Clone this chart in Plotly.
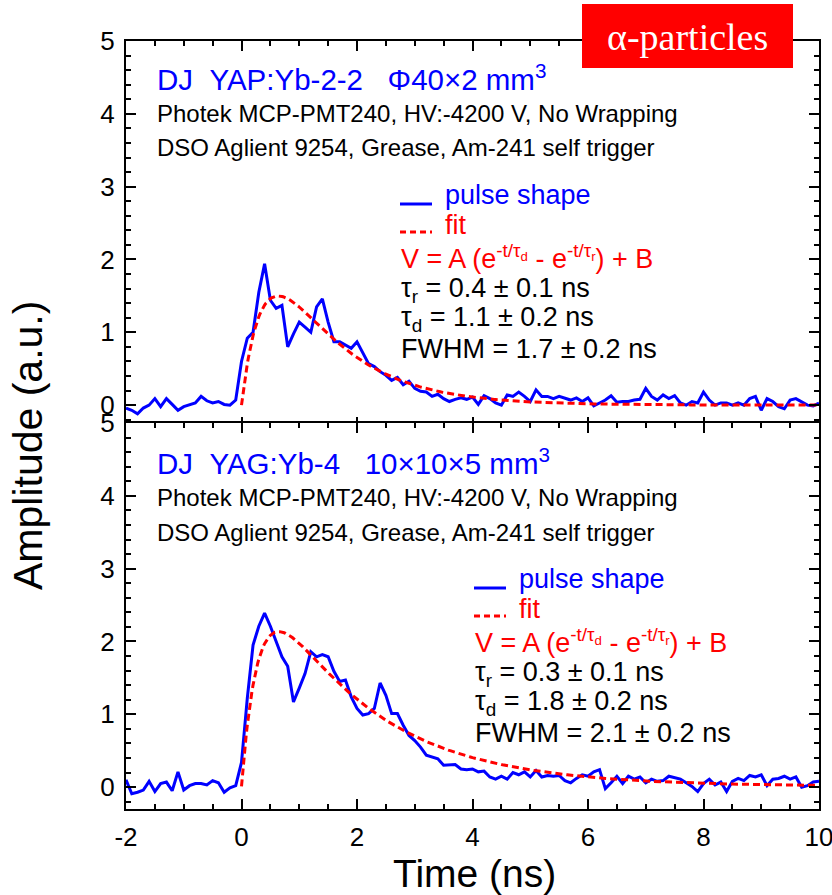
import numpy as np
import plotly.graph_objects as go
from plotly.subplots import make_subplots

# Sampling grid of the oscilloscope traces (ns)
time_ns = np.round(np.arange(-2.0, 10.0001, 0.1), 1)

# Averaged pulse shape, YAP:Yb crystal (a.u.)
yap_pulse = [
    -0.04, -0.07, -0.12, -0.04, 0.00, 0.09, -0.02, 0.09, 0.01, -0.07,
    -0.02, 0.00, 0.03, 0.12, 0.06, 0.03, 0.05, 0.01, 0.00, 0.07,
    0.60, 0.92, 1.00, 1.55, 1.94, 1.44, 1.33, 1.37, 0.80, 0.98,
    1.14, 1.07, 1.00, 1.35, 1.46, 1.14, 0.87, 0.87, 0.82, 0.78,
    0.87, 0.71, 0.57, 0.53, 0.46, 0.41, 0.34, 0.38, 0.28, 0.33,
    0.23, 0.19, 0.18, 0.12, 0.15, 0.09, 0.05, 0.08, 0.10, 0.08,
    0.11, 0.01, 0.13, 0.09, 0.03, 0.00, 0.14, 0.12, 0.18, 0.12,
    0.05, 0.21, 0.12, 0.12, 0.09, 0.12, 0.09, 0.07, 0.10, 0.05,
    0.10, -0.01, 0.03, 0.07, 0.13, 0.04, 0.05, 0.05, 0.07, 0.08,
    0.23, 0.12, 0.07, 0.14, 0.09, 0.13, 0.03, 0.00, 0.05, 0.03,
    0.18, 0.07, 0.00, 0.03, 0.03, 0.00, 0.03, 0.00, 0.09, 0.12,
    -0.07, 0.09, 0.05, -0.02, -0.05, 0.07, 0.09, 0.04, 0.00, -0.01,
    0.03,
]

# Averaged pulse shape, YAG:Yb crystal (a.u.)
yag_pulse = [
    0.10, -0.09, -0.07, -0.04, 0.08, -0.06, 0.05, 0.07, -0.05, 0.21,
    -0.04, 0.02, 0.05, 0.05, 0.03, 0.09, 0.06, -0.07, -0.01, 0.02,
    0.34, 1.22, 1.95, 2.21, 2.39, 2.21, 2.00, 1.79, 1.66, 1.17,
    1.36, 1.56, 1.86, 1.79, 1.82, 1.79, 1.59, 1.45, 1.47, 1.24,
    1.08, 0.99, 1.01, 1.08, 1.43, 1.26, 1.01, 1.01, 0.85, 0.71,
    0.64, 0.55, 0.44, 0.41, 0.39, 0.30, 0.30, 0.31, 0.25, 0.24,
    0.25, 0.21, 0.22, 0.14, 0.11, 0.15, 0.11, 0.20, 0.17, 0.21,
    0.14, 0.23, 0.14, 0.16, 0.15, 0.16, 0.09, 0.06, 0.12, 0.17,
    0.15, 0.21, 0.24, -0.02, 0.06, 0.15, 0.05, 0.15, 0.11, 0.14,
    0.06, 0.11, 0.08, 0.09, 0.15, 0.13, 0.11, 0.06, 0.01, -0.06,
    0.05, 0.11, 0.03, 0.07, -0.06, 0.08, 0.12, 0.09, 0.16, 0.14,
    0.17, 0.02, 0.11, 0.12, 0.15, 0.11, 0.14, 0.00, 0.02, 0.07,
    0.08,
]

# Fit results V = A (exp(-t/tau_d) - exp(-t/tau_r)) + B
yap_tau_r, yap_tau_d, yap_amp, yap_base = 0.4, 1.1, 4.2, 0.0
yag_tau_r, yag_tau_d, yag_amp, yag_base = 0.3, 1.8, 3.65, 0.01
yap_fwhm, yag_fwhm = 1.7, 2.1

# Axis ticks (plain hyphen for the negative label)
x_tickvals = [-2, 0, 2, 4, 6, 8, 10]
x_ticktext = ["-2", "0", "2", "4", "6", "8", "10"]
y_tickvals = [0, 1, 2, 3, 4, 5]
y_ticktext = ["0", "1", "2", "3", "4", "5"]

fit_t = np.linspace(0.0, 10.0, 501)


def fit_curve(t, tau_r, tau_d, amp, base):
    return amp * (np.exp(-t / tau_d) - np.exp(-t / tau_r)) + base


yap_fit = fit_curve(fit_t, yap_tau_r, yap_tau_d, yap_amp, yap_base)
yag_fit = fit_curve(fit_t, yag_tau_r, yag_tau_d, yag_amp, yag_base)

BLUE = "#0000ff"
RED = "#ff0000"
SANS = "Liberation Sans, Arial, sans-serif"
SERIF = "Liberation Serif, Times New Roman, serif"

W, H = 832, 895
ML, MR, MT, MB = 126, 13, 41, 86
PW = W - ML - MR
PH = H - MT - MB
LW = 2  # frame line width


def px(x):
    return (x - ML) / PW


def py(y):
    return (H - MB - y) / PH


fig = make_subplots(rows=2, cols=1, vertical_spacing=0)

for row, pulse, fit in ((1, yap_pulse, yap_fit), (2, yag_pulse, yag_fit)):
    fig.add_trace(go.Scatter(x=time_ns, y=pulse, mode="lines",
                             line=dict(color=BLUE, width=3),
                             showlegend=False), row=row, col=1)
    fig.add_trace(go.Scatter(x=fit_t, y=fit, mode="lines",
                             line=dict(color=RED, width=3, dash="7px,4px"),
                             showlegend=False), row=row, col=1)

tickfont = dict(family=SANS, size=26, color="black")
axis_common = dict(showline=True, linecolor="black", linewidth=LW,
                   mirror="ticks", ticks="inside", tickcolor="black",
                   tickwidth=2, ticklen=10, showgrid=False, zeroline=False,
                   tickfont=tickfont, ticklabelstandoff=4,
                   ticklabeloverflow="allow", automargin=False)

# panels share one frame line where they meet
half = LW / PH
domains = {1: [0.5 - half, 1.0], 2: [0.0, 0.5 + half]}

for row in (1, 2):
    fig.update_xaxes(range=[-2, 10], tickmode="array", tickvals=x_tickvals,
                     ticktext=x_ticktext,
                     minor=dict(dtick=0.5, tick0=0, ticks="inside", ticklen=5,
                                tickwidth=1.5, tickcolor="black"),
                     showticklabels=(row == 2), row=row, col=1, **axis_common)
    fig.update_yaxes(range=[-0.3, 5], tickmode="array", tickvals=y_tickvals,
                     ticktext=y_ticktext, domain=domains[row],
                     minor=dict(dtick=0.2, tick0=0, ticks="inside", ticklen=5,
                                tickwidth=1.5, tickcolor="black"),
                     row=row, col=1, **axis_common)

annotations = []
shapes = []


def text(x, y, s, size, color="black", family=SANS, **kw):
    annotations.append(dict(x=px(x), y=py(y), xref="paper", yref="paper",
                            text=s, showarrow=False, xanchor=kw.pop("xanchor", "left"),
                            yanchor="middle", font=dict(family=family, size=size, color=color),
                            **kw))


panels = [
    (0, 0, "DJ\u00a0\u00a0YAP:Yb-2-2\u00a0\u00a0\u00a0\u03a640\u00d72\u00a0mm<sup>3</sup>",
     (yap_tau_r, 0.1), (yap_tau_d, 0.2), (yap_fwhm, 0.2)),
    (384, 74, "DJ\u00a0\u00a0YAG:Yb-4\u00a0\u00a0\u00a010\u00d710\u00d75\u00a0mm<sup>3</sup>",
     (yag_tau_r, 0.1), (yag_tau_d, 0.2), (yag_fwhm, 0.2)),
]

for dy, dx, title, tr, td, fwhm in panels:
    text(155, 77 + dy, title, 29.5, BLUE)
    text(155, 113 + dy, "Photek MCP-PMT240, HV:-4200 V, No Wrapping", 24)
    text(155, 148 + dy, "DSO Aglient 9254, Grease, Am-241 self trigger", 24)
    # key: measured pulse and fit
    shapes.append(dict(type="line", xref="paper", yref="paper",
                       x0=px(400 + dx), x1=px(432 + dx), y0=py(204 + dy), y1=py(204 + dy),
                       line=dict(color=BLUE, width=3)))
    shapes.append(dict(type="line", xref="paper", yref="paper",
                       x0=px(400 + dx), x1=px(432 + dx), y0=py(232 + dy), y1=py(232 + dy),
                       line=dict(color=RED, width=3, dash="6px,4px")))
    text(443 + dx, 195 + dy, "pulse shape", 27, BLUE)
    text(443 + dx, 225 + dy, "fit", 27, RED)
    text(399 + dx, 257 + dy,
         "V = A (e<sup>-t/\u03c4<sub>d</sub></sup> - e<sup>-t/\u03c4<sub>r</sub></sup>) + B",
         27, RED)
    text(399 + dx, 290 + dy, f"\u03c4<sub>r</sub> = {tr[0]:.1f} \u00b1 {tr[1]:.1f} ns", 27)
    text(399 + dx, 319 + dy, f"\u03c4<sub>d</sub> = {td[0]:.1f} \u00b1 {td[1]:.1f} ns", 27)
    text(399 + dx, 349 + dy, f"FWHM = {fwhm[0]:.1f} \u00b1 {fwhm[1]:.1f} ns", 27)

# particle type label
shapes.append(dict(type="rect", xref="paper", yref="paper",
                   x0=px(582), x1=px(793), y0=py(68), y1=py(4),
                   fillcolor=RED, line=dict(width=0), layer="above"))
text(687.5, 37, "\u03b1-particles", 38, "white", SERIF, xanchor="center")

# axis titles
text(474, 873, "Time (ns)", 39, xanchor="center")
annotations.append(dict(x=px(28), y=py(446), xref="paper", yref="paper",
                        text="Amplitude (a.u.)", textangle=-90, showarrow=False,
                        xanchor="center", yanchor="middle",
                        font=dict(family=SANS, size=41, color="black")))

fig.update_layout(width=W, height=H, margin=dict(l=ML, r=MR, t=MT, b=MB),
                  plot_bgcolor="white", paper_bgcolor="white",
                  annotations=annotations, shapes=shapes, showlegend=False)

fig.write_html("out.html")
